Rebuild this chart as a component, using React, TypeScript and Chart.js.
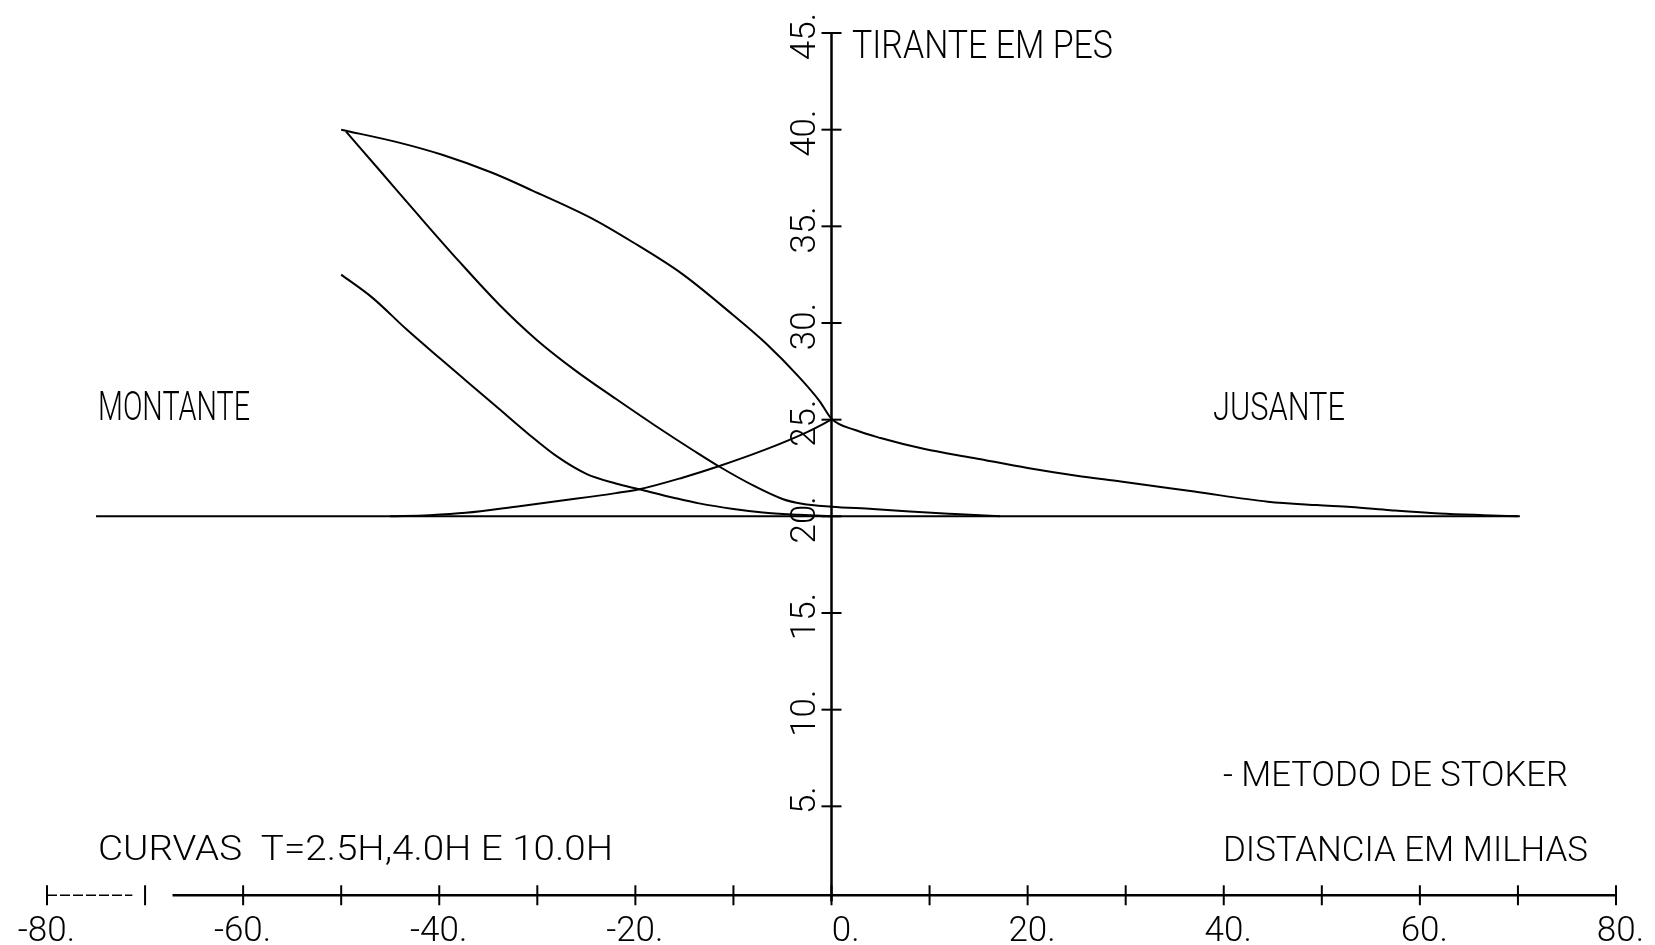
import React, { useEffect, useRef } from "react";
import { Chart, registerables } from "chart.js";

Chart.register(...registerables);

// ---------- data ----------
const xTickValues = [-80, -70, -60, -50, -40, -30, -20, -10, 0, 10, 20, 30, 40, 50, 60, 70, 80];
const xLabelValues = [-80, -60, -40, -20, 0, 20, 40, 60, 80];
const xLabelTexts = ["-80.", "-60.", "-40.", "-20.", "0.", "20.", "40.", "60.", "80."];
const yTickValues = [5, 10, 15, 20, 25, 30, 35, 40, 45];
const yLabelTexts = ["5.", "10.", "15.", "20.", "25.", "30.", "35.", "40.", "45."];
const xAxisCrossY = 0.4; // plotter drew the distance axis slightly above zero

// initial water level
const levelX = [-75, 70];
const levelY = [20, 20];

// T = 10.0H profile (upstream + downstream)
const t10X = [-50, -44.1, -39.7, -34.6, -30.5, -24.4, -20.3, -15.2, -10.1, -6.7, -3.3, -1.2, 0, 2.5, 5, 9.5, 14.5, 20, 25, 29.5, 37, 44.5, 49.5, 53, 57, 62, 66.5, 70.2];
const t10Y = [40, 39.33, 38.7, 37.77, 36.85, 35.4, 34.19, 32.53, 30.44, 28.95, 27.2, 25.95, 25.05, 24.45, 24.05, 23.48, 23.02, 22.5, 22.1, 21.8, 21.28, 20.76, 20.58, 20.48, 20.32, 20.15, 20.06, 20.0];

// T = 4.0H profile
const t4X = [-49.5, -46, -42, -38, -33.9, -30, -26, -22, -18, -14, -11.5, -8, -5, -3, 0, 4.2, 8, 12.6, 17.2];
const t4Y = [39.9, 37.85, 35.5, 33.2, 30.96, 29.1, 27.5, 26.08, 24.7, 23.38, 22.59, 21.6, 20.9, 20.65, 20.5, 20.38, 20.25, 20.12, 20.0];

// T = 2.5H profile
const t25X = [-50, -46.8, -43.4, -40, -37, -34, -31, -28, -25, -22, -19.6, -16, -13.5, -10, -7, -3.3, 0];
const t25Y = [32.5, 31.3, 29.7, 28.2, 26.9, 25.6, 24.3, 23.1, 22.2, 21.7, 21.4, 20.95, 20.67, 20.38, 20.2, 20.08, 20.0];

// rising front curve
const riseX = [-45, -41, -37.3, -32.2, -27.1, -22, -19.6, -15.2, -11.5, -6.7, -2.6, 0];
const riseY = [20, 20.06, 20.18, 20.5, 20.84, 21.2, 21.4, 22.0, 22.59, 23.46, 24.33, 25.0];

const seriesList = [
  { name: "nivel", xs: levelX, ys: levelY },
  { name: "T=10.0H", xs: t10X, ys: t10Y },
  { name: "T=4.0H", xs: t4X, ys: t4Y },
  { name: "T=2.5H", xs: t25X, ys: t25Y },
  { name: "frente", xs: riseX, ys: riseY },
];

const FONT = 'Roboto, "DejaVu Sans", sans-serif';

function fitText(ctx: CanvasRenderingContext2D, text: string, left: number, right: number, baseline: number, size: number) {
  ctx.save();
  ctx.font = `300 ${size}px ${FONT}`;
  const w = ctx.measureText(text).width;
  const sx = (right - left) / w;
  ctx.translate(left, baseline);
  ctx.scale(sx, 1);
  ctx.textAlign = "left";
  ctx.textBaseline = "alphabetic";
  ctx.fillStyle = "#000";
  ctx.fillText(text, 0, 0);
  ctx.restore();
}

const plotterPlugin = {
  id: "plotter",
  beforeDatasetsDraw(chart: any) {
    const ctx: CanvasRenderingContext2D = chart.ctx;
    const xs = chart.scales.x;
    const ys = chart.scales.y;
    const x0 = xs.getPixelForValue(0);
    const yAxisPx = ys.getPixelForValue(xAxisCrossY);
    ctx.save();
    ctx.strokeStyle = "#000";
    ctx.fillStyle = "#000";
    ctx.lineCap = "butt";

    // x axis
    ctx.setLineDash([10, 3]);
    ctx.lineWidth = 1.5;
    ctx.beginPath();
    ctx.moveTo(xs.getPixelForValue(-80), yAxisPx);
    ctx.lineTo(xs.getPixelForValue(-71.3), yAxisPx);
    ctx.stroke();
    ctx.setLineDash([]);
    ctx.lineWidth = 2.5;
    ctx.beginPath();
    ctx.moveTo(xs.getPixelForValue(-67.2), yAxisPx);
    ctx.lineTo(xs.getPixelForValue(80), yAxisPx);
    ctx.stroke();

    ctx.lineWidth = 2;
    for (const v of xTickValues) {
      const px = xs.getPixelForValue(v);
      ctx.beginPath();
      ctx.moveTo(px, yAxisPx - 10);
      ctx.lineTo(px, yAxisPx + 10);
      ctx.stroke();
    }

    // y axis
    ctx.lineWidth = 2.5;
    ctx.beginPath();
    ctx.moveTo(x0, yAxisPx + 6);
    ctx.lineTo(x0, ys.getPixelForValue(45));
    ctx.stroke();
    ctx.lineWidth = 2;
    for (const v of yTickValues) {
      const py = ys.getPixelForValue(v);
      ctx.beginPath();
      ctx.moveTo(x0 - 10, py);
      ctx.lineTo(x0 + 10, py);
      ctx.stroke();
    }

    // x tick labels
    ctx.font = `300 35px ${FONT}`;
    ctx.textAlign = "right";
    ctx.textBaseline = "alphabetic";
    xLabelValues.forEach((v, i) => {
      ctx.fillText(xLabelTexts[i], xs.getPixelForValue(v) + 28, 941);
    });

    // y tick labels (rotated)
    yTickValues.forEach((v, i) => {
      const py = ys.getPixelForValue(v);
      ctx.save();
      ctx.translate(x0 - 17, py - 20);
      ctx.rotate(-Math.PI / 2);
      ctx.textAlign = "right";
      ctx.textBaseline = "alphabetic";
      ctx.fillText(yLabelTexts[i], 0, 0);
      ctx.restore();
    });

    // annotations
    fitText(ctx, "TIRANTE EM PES", 852, 1113, 58, 38);
    fitText(ctx, "MONTANTE", 98, 250, 420, 40);
    fitText(ctx, "JUSANTE", 1213, 1345, 420, 38);
    fitText(ctx, "- METODO DE STOKER", 1223, 1568, 786, 35);
    fitText(ctx, "DISTANCIA EM MILHAS", 1223, 1588, 861, 35);
    fitText(ctx, "CURVAS  T=2.5H,4.0H E 10.0H", 98, 613, 860, 35);

    ctx.restore();
  },
};

export default function App() {
  const canvasRef = useRef<HTMLCanvasElement | null>(null);

  useEffect(() => {
    const canvas = canvasRef.current;
    if (!canvas) return;
    const datasets = seriesList.map((s) => ({
      label: s.name,
      data: s.xs.map((x, i) => ({ x, y: s.ys[i] })),
      showLine: true,
      borderColor: "#000",
      backgroundColor: "#000",
      borderWidth: 2,
      pointRadius: 0,
      pointHoverRadius: 0,
      cubicInterpolationMode: "monotone" as const,
      fill: false,
    }));
    const chart = new Chart(canvas, {
      type: "scatter",
      data: { datasets },
      options: {
        animation: false,
        responsive: false,
        devicePixelRatio: 1,
        layout: { padding: { left: 47, right: 39, top: 33, bottom: 42 } },
        plugins: {
          legend: { display: false },
          tooltip: { enabled: false },
          title: { display: false },
        },
        scales: {
          x: { type: "linear", min: -80, max: 80, display: false },
          y: { type: "linear", min: 0, max: 45, display: false },
        },
      },
      plugins: [plotterPlugin],
    });
    return () => chart.destroy();
  }, []);

  return (
    <div style={{ position: "fixed", left: 0, top: 0, width: 1655, height: 945, background: "#fff" }}>
      <canvas ref={canvasRef} width={1655} height={945} style={{ display: "block" }} />
    </div>
  );
}
